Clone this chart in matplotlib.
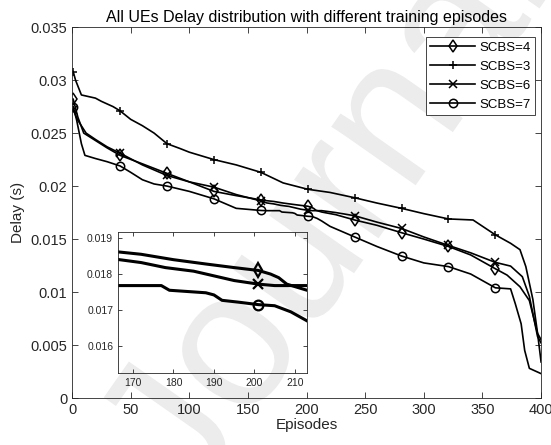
import numpy as np
import matplotlib
matplotlib.use("Agg")
import matplotlib.pyplot as plt
from matplotlib.textpath import TextPath
from matplotlib.patches import PathPatch
from matplotlib.font_manager import FontProperties
from matplotlib.transforms import Affine2D

plt.rcParams['font.family'] = ['Liberation Sans', 'DejaVu Sans']

# Episode markers every 40 episodes, starting at 1
marker_x = [1, 41, 81, 121, 161, 201, 241, 281, 321, 361]

# SCBS=4 (diamond)
x_scbs4 = [1, 5, 10, 20, 30, 41, 60, 81, 100, 121, 140, 161, 166, 172, 180, 188, 195, 201,
           204, 206, 208, 213, 225, 241, 260, 281, 300, 321, 340, 361, 371, 382, 390, 397, 400]
y_scbs4 = [0.0282, 0.0265, 0.0250, 0.0243, 0.0236, 0.0229, 0.0221, 0.0212, 0.0204, 0.0195,
           0.0191, 0.0187, 0.01862, 0.01855, 0.0184, 0.01828, 0.01818, 0.0181,
           0.0180, 0.0179, 0.01772, 0.01755, 0.0173, 0.0168, 0.0163, 0.0156, 0.0150, 0.0143,
           0.0135, 0.0122, 0.0116, 0.0105, 0.0092, 0.0061, 0.0055]

# SCBS=3 (plus)
x_scbs3 = [1, 3, 8, 20, 25, 35, 41, 50, 60, 70, 81, 92, 100, 121, 140, 161, 180, 201, 220,
           241, 260, 281, 300, 321, 342, 361, 374, 382, 387, 393, 397, 400]
y_scbs3 = [0.0308, 0.0300, 0.0286, 0.0283, 0.0280, 0.0275, 0.0271, 0.0263, 0.0257, 0.0250,
           0.0240, 0.02355, 0.0232, 0.0225, 0.0220, 0.0213, 0.0203, 0.0197, 0.0194,
           0.0189, 0.0184, 0.0179, 0.0174, 0.0169, 0.0168, 0.0154, 0.0146, 0.0140, 0.0124,
           0.0093, 0.0061, 0.0034]

# SCBS=6 (x)
x_scbs6 = [1, 5, 12, 20, 30, 41, 60, 81, 100, 121, 140, 161, 166, 172, 178, 185, 190, 195,
           201, 205, 213, 225, 241, 260, 281, 300, 321, 340, 361, 374, 384, 390, 397, 400]
y_scbs6 = [0.0272, 0.0262, 0.0250, 0.0244, 0.0237, 0.0231, 0.0220, 0.0210, 0.0204, 0.0199,
           0.0192, 0.0186, 0.01841, 0.01832, 0.01818, 0.01808, 0.01795, 0.01782,
           0.01772, 0.01768, 0.01768, 0.0175, 0.0172, 0.0166, 0.0160, 0.0152, 0.0144,
           0.0137, 0.0128, 0.01245, 0.01145, 0.0096, 0.0058, 0.0052]

# SCBS=7 (circle)
x_scbs7 = [1, 4, 8, 11, 20, 30, 41, 50, 60, 70, 81, 100, 121, 140, 161, 166, 177, 179, 188,
           190, 192, 196, 201, 205, 209, 213, 220, 241, 260, 281, 300, 321, 340, 361, 374,
           378, 383, 386, 390, 400]
y_scbs7 = [0.0275, 0.0262, 0.0240, 0.0229, 0.0226, 0.0223, 0.0219, 0.0213, 0.0206, 0.0202,
           0.0200, 0.0195, 0.0188, 0.0179, 0.0177, 0.01768, 0.01768, 0.01755, 0.01748,
           0.01742, 0.01727, 0.01722, 0.01715, 0.01712, 0.01695, 0.0167, 0.0162, 0.0152,
           0.0143, 0.0134, 0.01275, 0.0124, 0.0117, 0.0104, 0.0103, 0.0089, 0.0070,
           0.0045, 0.0028, 0.0023]

series = [
    ("SCBS=4", x_scbs4, y_scbs4, "d"),
    ("SCBS=3", x_scbs3, y_scbs3, "+"),
    ("SCBS=6", x_scbs6, y_scbs6, "x"),
    ("SCBS=7", x_scbs7, y_scbs7, "o"),
]


def marker_idx(xs, keep):
    return [i for i, v in enumerate(xs) if v in keep]


DPI = 100
fig = plt.figure(figsize=(5.51, 4.45), dpi=DPI)

# watermark as a path, in display pixels
wm_path = TextPath((0, 0), "Journal", size=140 * DPI / 72,
                   prop=FontProperties(family="Liberation Sans"))
ext = wm_path.get_extents()
wm_tr = (Affine2D().translate(-(ext.x0 + ext.x1) / 2, -(ext.y0 + ext.y1) / 2)
         .rotate_deg(55).translate(0.57 * 551, 0.53 * 445))


def add_watermark(target, clip=None, z=0):
    p = PathPatch(wm_path, facecolor="#ececec", edgecolor="none", transform=wm_tr,
                  zorder=z)
    target.add_artist(p)
    if clip is not None:
        p.set_clip_path(clip)
    return p


add_watermark(fig, z=-5)

ax = fig.add_axes([0.1307, 0.1056, 0.8513, 0.8334])
ax.set_facecolor("none")

for label, xs, ys, m in series:
    ax.plot(xs, ys, color="black", linewidth=1.2, marker=m, markersize=6,
            markerfacecolor="none", markeredgecolor="black", markeredgewidth=1.1,
            markevery=marker_idx(xs, marker_x), label=label)

ax.set_xlim(0, 400)
ax.set_ylim(0, 0.035)
ax.set_xticks(np.arange(0, 401, 50))
ax.set_yticks(np.arange(0, 0.0351, 0.005))
ax.set_yticklabels(["0", "0.005", "0.01", "0.015", "0.02", "0.025", "0.03", "0.035"])
ax.tick_params(direction="in", top=True, right=True, labelsize=10.5, colors="#262626",
               length=4, width=0.6)
for s in ax.spines.values():
    s.set_color("#262626")
    s.set_linewidth(0.6)
ax.set_xlabel("Episodes", fontsize=11, color="#262626", labelpad=1)
ax.set_ylabel("Delay (s)", fontsize=11, color="#262626", labelpad=4)
ax.set_title("All UEs Delay distribution with different training episodes",
             fontsize=11.5, color="black", pad=4)

leg = ax.legend(loc="upper right", fontsize=9.5, handlelength=3.4, handletextpad=0.3,
                labelspacing=0.5, borderpad=0.35, fancybox=False, framealpha=1,
                edgecolor="#262626", bbox_to_anchor=(0.987, 0.973), borderaxespad=0)
leg.get_frame().set_linewidth(0.6)

# zoomed inset
axi = fig.add_axes([0.2142, 0.1618, 0.343, 0.3169])
add_watermark(axi, clip=axi.patch, z=0)
for label, xs, ys, m in series:
    axi.plot(xs, ys, color="black", linewidth=2.2, marker=m, markersize=7,
             markerfacecolor="none", markeredgecolor="black", markeredgewidth=1.6,
             markevery=marker_idx(xs, [201]))
axi.set_xlim(166.3, 213)
axi.set_ylim(0.01525, 0.01917)
axi.set_xticks([170, 180, 190, 200, 210])
axi.set_yticks([0.016, 0.017, 0.018, 0.019])
axi.set_yticklabels(["0.016", "0.017", "0.018", "0.019"])
axi.tick_params(direction="in", top=True, right=True, labelsize=7.5, colors="#262626",
                length=3, width=0.6)
for s in axi.spines.values():
    s.set_color("#262626")
    s.set_linewidth(0.6)

fig.savefig("out.png", dpi=DPI)
